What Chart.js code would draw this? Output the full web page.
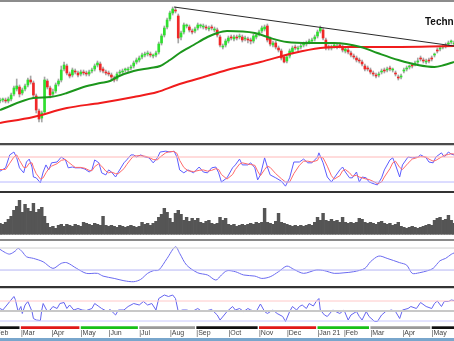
<!DOCTYPE html>
<html><head><meta charset="utf-8">
<script src="https://cdn.jsdelivr.net/npm/chart.js@4.4.0/dist/chart.umd.min.js"></script>
<style>
html,body{margin:0;padding:0;background:#fff;}
#wrap{position:relative;width:454px;height:341px;overflow:hidden;background:#fff;}
canvas{position:absolute;left:0;}
.ln{position:absolute;left:0;width:454px;}
#title{position:absolute;left:425px;top:16px;font:bold 10px "Liberation Sans",Arial,sans-serif;color:#111;white-space:nowrap;line-height:12px;}
</style></head><body>
<div id="wrap">
<canvas id="cPrice" width="454" height="141" style="top:2px"></canvas>
<canvas id="cStoch" width="454" height="44" style="top:147px"></canvas>
<canvas id="cVol" width="454" height="44" style="top:194px"></canvas>
<canvas id="cAdx" width="454" height="45" style="top:241px"></canvas>
<canvas id="cRsi" width="454" height="53" style="top:288px"></canvas>
<div class="ln" style="top:0;height:2px;background:#8c8c8c"></div>
<div class="ln" style="top:143px;height:2px;background:#4a4a4a"></div>
<div class="ln" style="top:145px;height:1px;background:#cfcfcf"></div>
<div class="ln" style="top:191px;height:2px;background:#333"></div>
<div class="ln" style="top:239px;height:2px;background:#8a8a8a"></div>
<div class="ln" style="top:286px;height:2px;background:#333"></div>
<div class="ln" style="top:288px;height:1px;background:#cfcfcf"></div>
<div class="ln" style="top:338px;height:3px;background:#79a6cc"></div>
<div id="title">Technical</div>
</div>
<script>
// ---------- DATA ----------
const DAY_STEP = 2; // one candle per two sessions
const open = [
43,44,44,43,45,50,55,57,51,55, 59,64,61,48,33,26,32,63,56,50,
53,60,64,75,78,70,69,73,71,70, 72,71,70,73,75,79,80,75,72,71,
69,66,65,71,72,74,74,76,78,82, 84,87,89,90,90,88,89,92,101,109,
117,125,131,134,128,107,112,118,117,113, 113,116,118,117,117,115,117,114,114,107,
97,99,103,107,105,107,107,107,105,105, 104,103,107,110,113,115,118,105,99,101,
96,93,87,83,88,92,97,95,97,99, 100,102,103,105,108,113,114,104,97,96,
98,97,99,97,93,94,91,88,86,84, 82,78,76,74,71,69,69,72,74,74,
76,74,71,67,67,73,75,77,79,80, 82,86,84,82,84,86,89,94,95,97,
99,100,102,100];
const high = [
46,46,46,47,51,58,65,59,56,60, 66,68,63,50,35,33,67,65,58,55,
61,65,78,82,80,72,76,75,73,74, 74,73,74,76,80,83,82,77,74,73,
71,68,72,74,75,76,77,79,83,86, 88,91,92,93,92,90,93,102,110,118,
126,133,137,137,130,113,121,120,119,115, 117,121,120,120,119,118,119,117,116,109,
100,105,108,109,109,109,110,109,108,107, 106,110,111,114,118,119,120,107,103,103,
98,95,89,89,95,98,99,98,100,102, 103,105,106,109,114,118,116,106,99,99,
100,100,101,99,97,96,93,90,88,86, 84,80,78,76,73,71,72,75,76,77,
78,76,73,69,70,76,78,79,81,83, 86,88,86,85,86,88,91,96,98,99,
101,103,104,103];
const low = [
41,42,41,41,43,48,53,47,49,53, 57,60,46,31,22,22,30,55,46,48,
51,58,62,73,69,66,67,70,67,68, 69,68,68,71,73,77,72,71,69,68,
64,62,63,69,70,72,72,74,76,80, 82,85,87,88,87,86,87,90,99,107,
115,123,129,131,101,104,110,116,112,110, 111,114,116,115,114,113,114,112,107,97,
95,97,101,104,103,104,105,102,103,101, 100,101,105,108,111,113,102,98,97,95,
92,84,81,81,86,90,94,93,95,97, 98,100,101,103,106,111,104,94,94,94,
96,95,96,92,91,90,87,85,82,81, 78,73,73,70,68,66,67,70,71,72,
73,72,68,64,65,71,73,75,76,78, 80,83,81,80,81,83,87,91,93,95,
96,98,100,98];
const close = [
44,44,43,45,49,56,58,50,54,58, 64,62,49,34,25,31,64,57,49,52,
59,63,74,79,71,68,74,72,69,72, 71,70,72,74,78,81,74,73,71,70,
67,64,70,72,73,74,75,77,81,84, 86,89,90,91,89,88,91,100,108,116,
124,131,135,133,106,111,119,118,114,112, 115,119,118,118,116,116,116,115,109,99,
98,103,106,106,107,106,108,104,106,104, 103,108,109,112,116,117,104,100,101,97,
94,86,82,87,93,96,96,96,98,100, 101,103,104,107,112,116,106,96,96,97,
98,98,98,94,95,92,89,87,84,83, 80,75,75,72,70,68,70,73,73,75,
75,74,70,66,68,74,76,77,78,81, 83,85,83,83,83,85,89,93,96,97,
98,101,102,101];
const volume = [
11,10,12,15,18,24,28,34,22,30, 26,23,31,22,25,27,18,11,7,8,
6,9,10,8,10,9,8,10,9,8, 12,11,10,9,11,10,9,18,9,8,
9,8,7,9,8,7,8,9,8,7, 8,12,10,11,9,11,13,17,20,26,
22,16,12,21,24,20,14,17,13,16, 14,16,12,11,13,14,11,10,11,17,
14,16,10,9,10,8,9,10,9,10, 11,10,12,11,12,26,12,11,10,13,
21,12,11,10,9,8,9,8,9,8, 9,10,9,12,17,14,21,14,13,15,
13,14,12,17,12,11,12,11,12,16, 15,12,11,12,11,10,12,13,11,10,
11,9,10,12,8,7,6,7,8,7, 6,7,8,9,10,9,14,16,17,14,
15,19,14,11];

const maGreenDays = [0,24,36,48,60,72,79,84,96,108,115,122,129,139,149,156,163,183,194,206,223,240,259,271,286,300,312,319,326];
const maGreenVals = [34,46,47,51,57,61,63,67,73,76,78,84,91,99,107,111,113,111,106,102,101,101,97,91,84,79,77,79,82];
const maRedDays = [0,24,48,72,96,113,127,144,163,187,211,230,242,273,326];
const maRedVals = [21,27,36,41,47,52,59,66,74,82,91,96,97,97,98];
const trendDays = [125,326];
const trendVals = [137,98];

const stochDays = [0,4,7,10,12,14,17,19,21,23,24,26,29,31,33,35,37,41,44,47,49,52,54,58,61,64,66,68,71,73,76,78,80,83,85,89,91,94,96,98,101,104,107,110,113,115,119,122,125,127,129,132,135,139,143,146,149,152,155,157,159,163,167,169,172,174,178,180,183,185,187,190,192,194,198,202,205,208,211,215,218,221,224,228,229,232,235,238,240,244,246,248,251,253,256,258,260,263,265,269,271,274,276,280,282,284,287,289,293,296,300,302,306,308,311,313,317,319,322,324,326];
const stochK = [46,54,85,92,78,54,42,68,75,56,32,30,18,44,61,49,66,68,80,73,54,56,54,54,51,44,49,73,66,42,37,49,44,32,44,66,73,85,85,80,85,80,78,66,78,92,94,92,94,80,49,42,49,42,56,44,42,54,56,42,20,30,54,61,75,61,61,66,54,25,37,78,56,37,30,22,10,30,68,68,75,66,66,80,90,66,32,20,30,49,56,44,30,30,44,20,32,30,20,15,13,30,49,73,78,61,32,61,80,78,80,85,78,68,66,80,90,80,92,87,85];
const stochD = [50,50,65,80,85,72,55,55,65,66,55,40,27,30,42,52,58,64,72,74,68,60,55,55,53,48,47,57,64,58,46,42,44,40,40,52,62,75,82,83,83,82,79,74,73,80,90,93,93,89,72,55,47,45,48,49,46,48,52,50,38,27,38,50,63,66,63,62,60,46,35,50,58,55,40,28,20,20,40,60,70,70,68,72,80,78,58,35,27,35,47,50,42,34,36,32,30,27,26,20,16,20,32,52,66,70,55,50,65,75,79,81,80,75,70,72,80,84,86,88,87];
const stochLevels = [80,20];

const adxDays = [0,4,7,11,13,16,19,24,31,38,44,48,55,62,70,74,82,89,96,101,106,110,114,120,126,129,134,142,149,155,159,163,169,175,183,188,194,200,206,211,218,227,233,240,247,254,262,266,272,278,287,292,296,301,307,311,316,320,324,326];
const adxVals = [38.8,35.7,34.5,37.3,39.7,36.6,32.1,30.6,27.5,21.5,26.1,26.7,21.5,17,17,14.5,12.4,10.3,9.4,11.5,17,19.4,20,30.6,41.2,35.2,24.5,17.5,15.5,10.9,15.5,19.4,18.5,15.5,14.5,12.4,13.9,18.5,23.6,20.6,17,20,19.4,17,17.5,18.5,21.5,27.5,32.7,30.6,26.7,24.5,17,17.5,19.4,21.5,28.5,30.6,34.3,35.5];
const adxLevels = [40,20];

const rsiDays = [0,2,5,7,10,11,13,15,16,18,20,23,24,26,29,30,31,34,36,38,41,43,46,48,50,53,56,59,62,66,68,71,73,77,79,83,85,89,92,96,100,103,106,109,112,114,118,121,124,126,128,131,134,138,142,145,149,152,156,158,161,163,167,169,172,175,178,180,184,187,190,192,196,199,203,205,208,210,213,215,217,220,222,225,227,229,230,233,235,239,241,244,247,250,252,256,258,260,263,265,269,271,274,277,281,284,287,289,293,295,299,302,306,310,312,314,317,319,322,324,326];
const rsiVals = [55,52,62,69,79,73,49,59,45,62,69,49,35,32,31,52,65,49,52,59,55,65,67,55,62,52,55,52,51,55,65,59,55,49,53,42,52,52,59,65,62,69,62,65,52,75,82,79,82,75,49,52,52,49,55,49,51,53,42,32,42,49,59,52,55,49,55,52,49,64,49,45,52,45,39,29,49,59,52,59,62,55,65,60,69,75,52,42,39,52,49,45,52,32,42,49,39,32,49,39,29,29,42,49,52,49,35,52,55,59,55,67,59,55,65,70,59,69,69,72,71];
const rsiLevels = [70,50,30];

const monthDays = [-4,15,37,58,78,100,122,141,164,186,206,228,247,266,289,310];
const monthLabels = ['|Feb','|Mar','|Apr','|May','|Jun','|Jul','|Aug','|Sep','|Oct','|Nov','|Dec','|Jan 21','|Feb','|Mar','|Apr','|May'];
const periodStart = [0,15,58,100,141,186,228,266,310];
const periodEnd   = [14,57,99,140,185,227,265,309,326];
const periodColor = ['#111111','#e01818','#18c018','#9a9a9a','#111111','#e01818','#18c018','#9a9a9a','#111111'];

// ---------- CHARTS ----------
const X_MIN = 0, X_MAX = 326;
const days = close.map((_, i) => i * DAY_STEP);
const pts = (xs, ys) => xs.map((x, i) => ({x: x, y: ys[i]}));
const flat = (v) => [{x: X_MIN, y: v}, {x: X_MAX, y: v}];
const base = () => ({
  responsive: false, animation: false, devicePixelRatio: 1, events: [],
  layout: {padding: 0},
  plugins: {legend: {display: false}, tooltip: {enabled: false}, title: {display: false}}
});
const xHidden = {type: 'linear', min: X_MIN, max: X_MAX, offset: false, display: false};
const lineDs = (data, color, width, extra) => Object.assign({
  type: 'line', data: data, borderColor: color, borderWidth: width, pointRadius: 0,
  fill: false, tension: 0
}, extra || {});

const up = (i) => close[i] >= open[i];
new Chart(document.getElementById('cPrice'), {
  type: 'bar',
  data: {datasets: [
    {type: 'bar', data: days.map((d, i) => ({x: d, y: [low[i], high[i]]})),
     backgroundColor: '#a6a6a6', barThickness: 1, grouped: false, order: 5},
    {type: 'bar', data: days.map((d, i) => ({x: d, y: [open[i], close[i]]})),
     backgroundColor: (c) => up(c.dataIndex) ? '#2fe02f' : '#f02828',
     barThickness: 2, minBarLength: 1, grouped: false, order: 4},
    lineDs(pts(maRedDays, maRedVals), '#f01c1c', 2, {tension: 0.4, cubicInterpolationMode: 'monotone', order: 3}),
    lineDs(pts(maGreenDays, maGreenVals), '#1c961c', 2, {tension: 0.4, cubicInterpolationMode: 'monotone', order: 2}),
    lineDs(pts(trendDays, trendVals), '#2a2a2a', 1, {order: 1})
  ]},
  options: Object.assign(base(), {scales: {x: xHidden, y: {min: 1, max: 142, display: false}}})
});

new Chart(document.getElementById('cStoch'), {
  type: 'line',
  data: {datasets: [
    lineDs(flat(stochLevels[0]), '#ffb8b8', 1),
    lineDs(flat(stochLevels[1]), '#b8b8ff', 1),
    lineDs(pts(stochDays, stochD), '#ff6a6a', 1),
    lineDs(pts(stochDays, stochK), '#5c5cff', 1)
  ]},
  options: Object.assign(base(), {scales: {x: xHidden, y: {min: -1.6, max: 104, display: false}}})
});

new Chart(document.getElementById('cVol'), {
  type: 'bar',
  data: {datasets: [
    {data: days.map((d, i) => ({x: d, y: volume[i]})), backgroundColor: '#555555',
     barPercentage: 1, categoryPercentage: 1}
  ]},
  options: Object.assign(base(), {scales: {x: xHidden, y: {min: -3.7, max: 40.3, display: false}}})
});

new Chart(document.getElementById('cAdx'), {
  type: 'line',
  data: {datasets: [
    lineDs(flat(adxLevels[0]), '#d0d0d0', 1),
    lineDs(flat(adxLevels[1]), '#b4b4f4', 1),
    lineDs(pts(adxDays, adxVals), '#6a6af0', 1, {tension: 0.3})
  ]},
  options: Object.assign(base(), {scales: {x: xHidden, y: {min: 5.5, max: 46.4, display: false}}})
});

const rsiColors = ['#ffc8c8', '#c8c8c8', '#c8c8ff'];
const rsiWidths = [1, 2, 1];
new Chart(document.getElementById('cRsi'), {
  type: 'line',
  data: {datasets: [
    ...rsiLevels.map((v, k) => lineDs(flat(v), rsiColors[k], rsiWidths[k])),
    lineDs(pts(rsiDays, rsiVals), '#6464f0', 1),
    ...periodStart.map((s, k) => lineDs([{x: s, y: 16.4}, {x: periodEnd[k], y: 16.4}], periodColor[k], 3))
  ]},
  options: Object.assign(base(), {scales: {
    x: {type: 'linear', min: X_MIN, max: X_MAX, offset: false, position: 'bottom',
        grid: {display: false, drawTicks: false}, border: {display: false},
        ticks: {autoSkip: false, maxRotation: 0, minRotation: 0, align: 'start', padding: 0,
                color: '#444', font: {size: 7, family: "'Liberation Sans',Arial"},
                callback: (v, i) => monthLabels[i]},
        afterBuildTicks: (ax) => { ax.ticks = monthDays.map(v => ({value: v})); },
        afterFit: (ax) => { ax.height = 12; ax.paddingLeft = 0; ax.paddingRight = 0; }},
    y: {min: 14, max: 96, display: false}
  }})
});
</script>
</body></html>
